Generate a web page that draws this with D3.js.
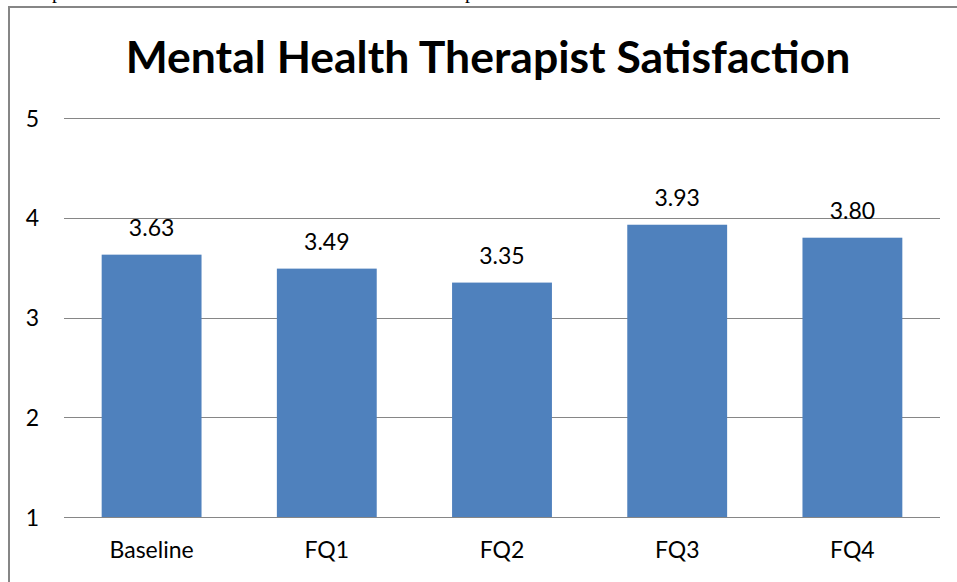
<!DOCTYPE html>
<html><head><meta charset="utf-8">
<script src="https://cdn.jsdelivr.net/npm/d3@7"></script>
<style>body{margin:0;background:#fff}svg{display:block}</style>
</head><body>
<svg id="c" width="957" height="582"></svg>
<script>
const categories = ["Baseline","FQ1","FQ2","FQ3","FQ4"];
const values = [3.63,3.49,3.35,3.93,3.80];
const valueLabels = ["3.63","3.49","3.35","3.93","3.80"];
const yTicks = [1,2,3,4,5];
const title = "Mental Health Therapist Satisfaction";

const svg = d3.select("#c");
const font = "Lato, Carlito, 'Open Sans', sans-serif";
const fs = 23;

// stray text fragments cut off at top of image (present in the reference)
svg.append("text").attr("x",52).attr("y",-2).attr("font-family","'Liberation Serif', serif").attr("font-size",20).text("p");
svg.append("text").attr("x",465).attr("y",-2).attr("font-family","'Liberation Serif', serif").attr("font-size",20).text("p");

// border
svg.append("path").attr("d","M9,590 L9,7 L970,7").attr("fill","none").attr("stroke","#868686").attr("stroke-width",2);

const x = d3.scaleBand().domain(categories).range([64,940]).paddingInner(0.43).paddingOuter(0.215);
const y = d3.scaleLinear().domain([1,5]).range([517,118]);

// gridlines
svg.append("g").selectAll("line").data(yTicks).join("line")
  .attr("x1",64).attr("x2",940).attr("y1",d=>Math.round(y(d))+0.5).attr("y2",d=>Math.round(y(d))+0.5)
  .attr("stroke","#868686").attr("stroke-width",1);

// y axis labels
const ya = d3.axisLeft(y).tickValues(yTicks).tickSize(0).tickPadding(0).tickFormat(d3.format("d"));
const yg = svg.append("g").attr("transform","translate(39,0)").call(ya);
yg.select(".domain").remove();
yg.selectAll("text").attr("font-family",font).attr("font-size",fs).attr("fill","#000").attr("dy","0.35em");

// bars
svg.append("g").selectAll("rect").data(values).join("rect")
  .attr("x",(d,i)=>x(categories[i])).attr("width",x.bandwidth())
  .attr("y",d=>y(d)).attr("height",d=>y(1)-y(d)).attr("fill","#4F81BD");

// value labels
svg.append("g").selectAll("text").data(values).join("text")
  .attr("x",(d,i)=>x(categories[i])+x.bandwidth()/2).attr("y",d=>y(d)-19)
  .attr("text-anchor","middle").attr("font-family",font).attr("font-size",fs).attr("fill","#000")
  .text((d,i)=>valueLabels[i]);

// x axis labels
const xa = d3.axisBottom(x).tickSize(0).tickPadding(0);
const xg = svg.append("g").attr("transform","translate(0,541)").call(xa);
xg.select(".domain").remove();
xg.selectAll("text").attr("font-family",font).attr("font-size",fs).attr("fill","#000").attr("dy","0.75em");

// title
const t = svg.append("text").attr("x",488).attr("y",73).attr("text-anchor","middle")
  .attr("font-family",font).attr("font-weight","bold").attr("font-size",38).attr("fill","#000").text(title);
const w = t.node().getComputedTextLength();
t.attr("font-size",38*725/w);
</script>
</body></html>
